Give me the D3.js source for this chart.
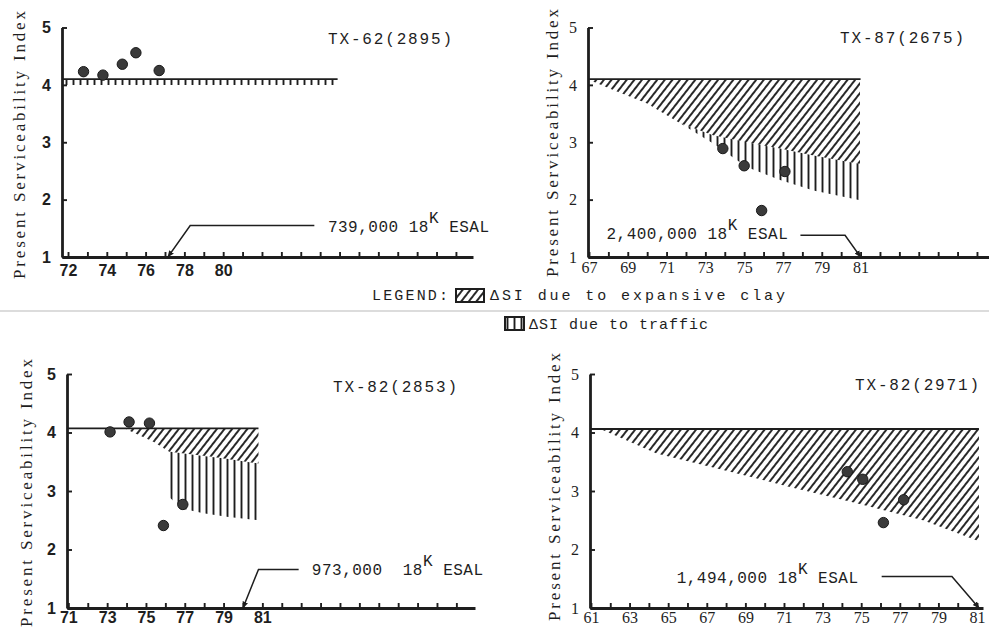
<!DOCTYPE html>
<html>
<head>
<meta charset="utf-8">
<script src="https://cdn.jsdelivr.net/npm/d3@7"></script>
<style>
  body { margin: 0; background: #fff; }
  svg { display: block; }
</style>
</head>
<body>
<div id="chart"></div>
<script>
// values: year (19xx) vs Present Serviceability Index

// TX-62(2895)
const tx62Years = [72.8, 73.8, 74.8, 75.5, 76.7]
const tx62Psi = [4.23, 4.17, 4.36, 4.56, 4.25]
const tx62InitialYears = [71.7, 85.9]
const tx62InitialPsi = [4.1, 4.1]
const tx62TrafficYears = [71.7, 85.9]
const tx62TrafficTop = [4.1, 4.1]
const tx62TrafficBottom = [4.0, 4.0]

// TX-87(2675)
const tx87Years = [73.9, 75.0, 77.1, 75.9]
const tx87Psi = [2.89, 2.59, 2.49, 1.81]
const tx87InitialYears = [66.95, 81]
const tx87InitialPsi = [4.1, 4.1]
const tx87ClayYears = [67.05, 68.25, 69.97, 71.7, 73.4, 75.13, 76.85, 78.57, 80.97]
const tx87ClayTop = [4.1, 4.1, 4.1, 4.1, 4.1, 4.1, 4.1, 4.1, 4.1]
const tx87ClayBottom = [4.08, 3.91, 3.68, 3.33, 3.12, 3.0, 2.89, 2.77, 2.62]
const tx87TrafficYears = [71.7, 73.4, 75.13, 76.85, 78.57, 80.97]
const tx87TrafficTop = [3.33, 3.12, 3.0, 2.89, 2.77, 2.62]
const tx87TrafficBottom = [3.33, 2.98, 2.57, 2.34, 2.16, 1.99]

// TX-82(2853)
const tx82aYears = [73.15, 74.13, 75.18, 75.9, 76.9]
const tx82aPsi = [4.01, 4.18, 4.16, 2.41, 2.77]
const tx82aInitialYears = [70.93, 80.8]
const tx82aInitialPsi = [4.07, 4.07]
const tx82aClayYears = [73.9, 75.38, 76.2, 78.3, 80.8]
const tx82aClayTop = [4.07, 4.07, 4.07, 4.07, 4.07]
const tx82aClayBottom = [4.07, 3.84, 3.67, 3.59, 3.47]
const tx82aTrafficYears = [76.2, 76.25, 76.85, 77.96, 79.16, 80.8]
const tx82aTrafficTop = [3.67, 3.67, 3.645, 3.6, 3.55, 3.47]
const tx82aTrafficBottom = [3.67, 2.88, 2.70, 2.62, 2.56, 2.50]

// TX-82(2971)
const tx82bYears = [74.28, 75.08, 76.15, 77.2]
const tx82bPsi = [3.33, 3.2, 2.46, 2.85]
const tx82bInitialYears = [60.95, 81.1]
const tx82bInitialPsi = [4.06, 4.06]
const tx82bClayYears = [61.3, 61.64, 64.4, 67.85, 71.3, 74.77, 78.2, 81.1]
const tx82bClayTop = [4.06, 4.06, 4.06, 4.06, 4.06, 4.06, 4.06, 4.06]
const tx82bClayBottom = [4.06, 4.04, 3.64, 3.36, 3.07, 2.79, 2.50, 2.14]

const panelTitles = ['TX-62(2895)', 'TX-87(2675)', 'TX-82(2853)', 'TX-82(2971)']
const esalCounts = ['739,000 18', '2,400,000 18', '973,000  18', '1,494,000 18']
const esalYears = [77.15, 81.0, 80.0, 81.1]   // where the arrow meets the time axis
const xLabelYears = [
  [72, 74, 76, 78, 80],
  [67, 69, 71, 73, 75, 77, 79, 81],
  [71, 73, 75, 77, 79, 81],
  [61, 63, 65, 67, 69, 71, 73, 75, 77, 79, 81]
]
const psiTicks = [1, 2, 3, 4, 5]
const yTitle = 'Present Serviceability Index'
const legendLabels = ['ΔSI due to expansive clay', 'ΔSI due to traffic']

function band(years, top, bottom) {
  return years.map((d, i) => ({year: d, top: top[i], bottom: bottom[i]}))
}
function pts(years, psi) {
  return years.map((d, i) => ({year: d, psi: psi[i]}))
}

const panels = [
  {points: pts(tx62Years, tx62Psi), initial: pts(tx62InitialYears, tx62InitialPsi),
   clay: null, traffic: band(tx62TrafficYears, tx62TrafficTop, tx62TrafficBottom)},
  {points: pts(tx87Years, tx87Psi), initial: pts(tx87InitialYears, tx87InitialPsi),
   clay: band(tx87ClayYears, tx87ClayTop, tx87ClayBottom),
   traffic: band(tx87TrafficYears, tx87TrafficTop, tx87TrafficBottom)},
  {points: pts(tx82aYears, tx82aPsi), initial: pts(tx82aInitialYears, tx82aInitialPsi),
   clay: band(tx82aClayYears, tx82aClayTop, tx82aClayBottom),
   traffic: band(tx82aTrafficYears, tx82aTrafficTop, tx82aTrafficBottom)},
  {points: pts(tx82bYears, tx82bPsi), initial: pts(tx82bInitialYears, tx82bInitialPsi),
   clay: band(tx82bClayYears, tx82bClayTop, tx82bClayBottom), traffic: null}
]

// where each small plot sits on the page
const layout = [
  {x0: 62, x1: 473, xStart: 71.69, xEnd: 92.88, yTop: 27.5, yBottom: 257,
   tickFont: 'Liberation Sans', tickWeight: 'bold', xPad: 8,
   titleX: 328, titleY: 44, yTitleX: 25, yTitleY: 145,
   leader: [[84.7, 1.55], [78.3, 1.55]], esalAt: [85.4, 1.43]},
  {x0: 588, x1: 989, xStart: 66.95, xEnd: 87.62, yTop: 27.5, yBottom: 257,
   tickFont: 'Liberation Serif', tickWeight: 'normal', xPad: 5,
   titleX: 840, titleY: 43, yTitleX: 558, yTitleY: 143,
   leader: [[77.9, 1.38], [80.2, 1.38]], esalAt: [67.9, 1.32]},
  {x0: 67, x1: 475, xStart: 70.93, xEnd: 91.96, yTop: 374, yBottom: 608,
   tickFont: 'Liberation Sans', tickWeight: 'bold', xPad: 4,
   titleX: 333, titleY: 392, yTitleX: 32, yTitleY: 493,
   leader: [[82.87, 1.66], [80.8, 1.66]], esalAt: [83.55, 1.56]},
  {x0: 590, x1: 983, xStart: 60.95, xEnd: 81.31, yTop: 374, yBottom: 608,
   tickFont: 'Liberation Serif', tickWeight: 'normal', xPad: 4,
   titleX: 855, titleY: 390, yTitleX: 560, yTitleY: 487,
   leader: [[76.06, 1.54], [79.7, 1.54]], esalAt: [65.44, 1.43]}
]

const ink = '#1e1e1e'

const svg = d3.select('#chart').append('svg')
  .attr('width', 989)
  .attr('height', 628)
  .style('background', '#fff')

const defs = svg.append('defs')

defs.append('pattern')
  .attr('id', 'clay')
  .attr('patternUnits', 'userSpaceOnUse')
  .attr('width', 6)
  .attr('height', 10)
  .attr('patternTransform', 'rotate(38)')
  .append('line')
  .attr('x1', 3).attr('x2', 3).attr('y1', -1).attr('y2', 11)
  .attr('stroke', ink).attr('stroke-width', 1.9)

defs.append('pattern')
  .attr('id', 'traffic')
  .attr('patternUnits', 'userSpaceOnUse')
  .attr('width', 7)
  .attr('height', 10)
  .append('line')
  .attr('x1', 3.5).attr('x2', 3.5).attr('y1', -1).attr('y2', 11)
  .attr('stroke', ink).attr('stroke-width', 1.9)

defs.append('marker')
  .attr('id', 'arrow')
  .attr('viewBox', '0 0 10 10')
  .attr('refX', 9).attr('refY', 5)
  .attr('markerWidth', 7).attr('markerHeight', 7)
  .attr('markerUnits', 'userSpaceOnUse')
  .attr('orient', 'auto')
  .append('path')
  .attr('d', 'M0,1 L10,5 L0,9 z')
  .attr('fill', ink)

// faint fold line of the scanned page
svg.append('line')
  .attr('x1', 0).attr('x2', 989).attr('y1', 311).attr('y2', 311)
  .attr('stroke', '#d0d0d0').attr('stroke-width', 1.5)

function drawPanel(p, l, i) {
  const x = d3.scaleLinear().domain([l.xStart, l.xEnd]).range([l.x0, l.x1])
  const y = d3.scaleLinear().domain([1, 5]).range([l.yBottom, l.yTop])
  const g = svg.append('g')

  const area = d3.area()
    .x(d => x(d.year))
    .y0(d => y(d.bottom))
    .y1(d => y(d.top))

  if (p.clay) {
    g.append('path').datum(p.clay).attr('d', area).attr('fill', 'url(#clay)')
  }
  if (p.traffic) {
    g.append('path').datum(p.traffic).attr('d', area).attr('fill', 'url(#traffic)')
  }

  // initial serviceability
  g.append('path')
    .datum(p.initial)
    .attr('d', d3.line().x(d => x(d.year)).y(d => y(d.psi)))
    .attr('fill', 'none')
    .attr('stroke', ink)
    .attr('stroke-width', 1.8)

  // bottom axis, a tick every year
  const years = d3.range(Math.ceil(l.xStart), Math.floor(l.xEnd) + 1)
  const xAxis = g.append('g')
    .attr('transform', `translate(0,${l.yBottom})`)
    .call(d3.axisBottom(x)
      .tickValues(years)
      .tickSize(-5)
      .tickSizeOuter(0)
      .tickPadding(l.xPad)
      .tickFormat(d => xLabelYears[i].includes(d) ? d : ''))

  // left axis
  const yAxis = g.append('g')
    .attr('transform', `translate(${l.x0},0)`)
    .call(d3.axisLeft(y)
      .tickValues(psiTicks)
      .tickSize(-5)
      .tickSizeOuter(0)
      .tickPadding(11)
      .tickFormat(d3.format('d')))

  ;[xAxis, yAxis].forEach(a => {
    a.select('.domain').attr('stroke', ink).attr('stroke-width', 2.8)
    a.selectAll('.tick line').attr('stroke', ink).attr('stroke-width', 1.9)
    a.selectAll('.tick text')
      .attr('fill', ink)
      .style('font-family', l.tickFont)
      .style('font-weight', l.tickWeight)
      .style('font-size', '16px')
  })

  // measured points
  g.selectAll('circle')
    .data(p.points)
    .join('circle')
    .attr('cx', d => x(d.year))
    .attr('cy', d => y(d.psi))
    .attr('r', 5.2)
    .attr('fill', '#3a3a3a')
    .attr('stroke', '#1a1a1a')
    .attr('stroke-width', 1)

  // ESAL leader line with arrow down to the time axis
  const leader = l.leader.concat([[esalYears[i], 1]])
  g.append('path')
    .datum(leader)
    .attr('d', d3.line().x(d => x(d[0])).y(d => y(d[1])))
    .attr('fill', 'none')
    .attr('stroke', ink)
    .attr('stroke-width', 1.5)
    .attr('marker-end', 'url(#arrow)')

  const esal = g.append('text')
    .attr('x', x(l.esalAt[0]))
    .attr('y', y(l.esalAt[1]))
    .attr('fill', ink)
    .style('font-family', 'Liberation Mono')
    .style('font-size', '16px')
    .style('letter-spacing', '0.5px')
    .style('white-space', 'pre')
  esal.append('tspan').text(esalCounts[i])
  esal.append('tspan').attr('dy', -9).text('K')
  esal.append('tspan').attr('dy', 9).text(' ESAL')

  // title
  g.append('text')
    .attr('x', l.titleX)
    .attr('y', l.titleY)
    .attr('fill', ink)
    .attr('textLength', 124)
    .attr('lengthAdjust', 'spacing')
    .style('font-family', 'Liberation Mono')
    .style('font-size', '16px')
    .text(panelTitles[i])

  // y label
  g.append('text')
    .attr('transform', `translate(${l.yTitleX},${l.yTitleY})rotate(-90)`)
    .attr('text-anchor', 'middle')
    .attr('fill', ink)
    .attr('textLength', 268)
    .attr('lengthAdjust', 'spacing')
    .style('font-family', 'Liberation Serif')
    .style('font-size', '17px')
    .text(yTitle)
}

panels.forEach((p, i) => drawPanel(p, layout[i], i))

// legend
const legend = svg.append('g')
legend.append('text')
  .attr('x', 372).attr('y', 300)
  .attr('fill', ink)
  .attr('textLength', 76)
  .attr('lengthAdjust', 'spacing')
  .style('font-family', 'Liberation Mono')
  .style('font-size', '15px')
  .text('LEGEND:')

const legendRows = [
  {fill: 'url(#clay)', bx: 456, by: 289, bw: 28, bh: 13, tx: 490, ty: 300, len: 295},
  {fill: 'url(#traffic)', bx: 505, by: 317, bw: 19, bh: 13, tx: 529, ty: 329, len: 179}
]
legendRows.forEach((r, i) => {
  legend.append('rect')
    .attr('x', r.bx).attr('y', r.by)
    .attr('width', r.bw).attr('height', r.bh)
    .attr('fill', r.fill)
    .attr('stroke', ink)
    .attr('stroke-width', 2)
  legend.append('text')
    .attr('x', r.tx).attr('y', r.ty)
    .attr('fill', ink)
    .attr('textLength', r.len)
    .attr('lengthAdjust', 'spacing')
    .style('font-family', 'Liberation Mono')
    .style('font-size', '15px')
    .text(legendLabels[i])
})
</script>
</body>
</html>
